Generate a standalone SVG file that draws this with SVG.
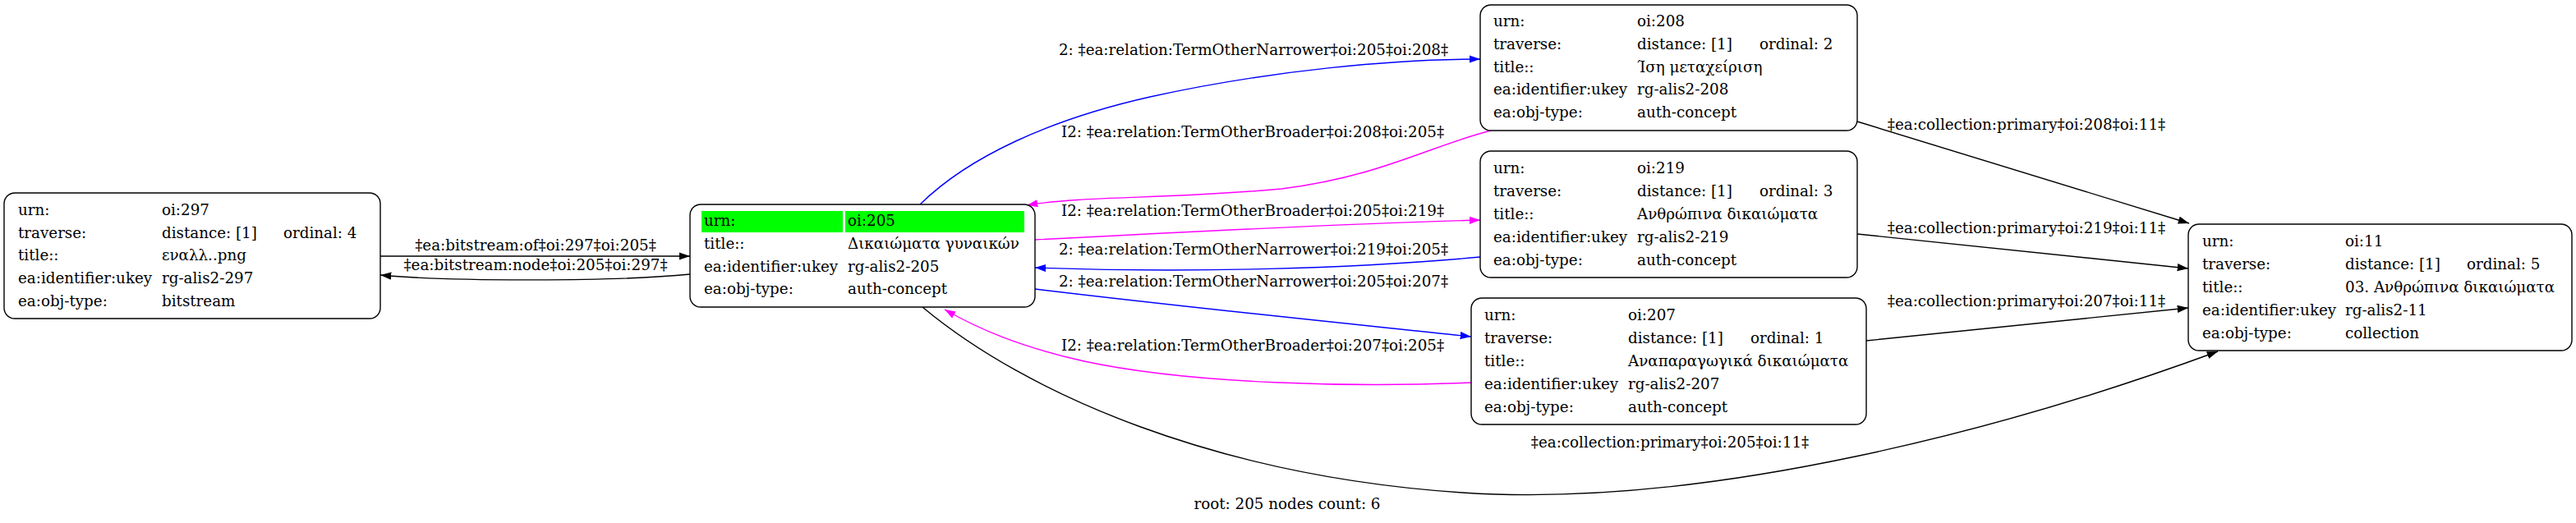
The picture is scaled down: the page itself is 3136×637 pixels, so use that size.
<svg xmlns="http://www.w3.org/2000/svg" width="3136" height="637" viewBox="0 0 3136 637">
<style>
text{font-family:"DejaVu Serif","Liberation Serif",serif;font-size:18.3px;fill:#000}
.lbl{text-anchor:middle}
.box{fill:#fff;stroke:#000;stroke-width:1.4}
.e{fill:none;stroke-width:1.4}
.k{stroke:#000}.b{stroke:#0000ff}.m{stroke:#ff00ff}
</style>
<defs>
<marker id="ak" markerUnits="userSpaceOnUse" markerWidth="14" markerHeight="10" refX="13.3" refY="4.67" orient="auto"><path d="M0,0 L13.3,4.67 L0,9.33 z" fill="#000"/></marker>
<marker id="ab" markerUnits="userSpaceOnUse" markerWidth="14" markerHeight="10" refX="13.3" refY="4.67" orient="auto"><path d="M0,0 L13.3,4.67 L0,9.33 z" fill="#0000ff"/></marker>
<marker id="am" markerUnits="userSpaceOnUse" markerWidth="14" markerHeight="10" refX="13.3" refY="4.67" orient="auto"><path d="M0,0 L13.3,4.67 L0,9.33 z" fill="#ff00ff"/></marker>
</defs>
<rect width="3136" height="637" fill="#fff"/>
<g id="connectors">
<path class="e k" d="M463,312 L840,312" marker-end="url(#ak)"/>
<text class="lbl" x="652" y="305">‡ea:bitstream:of‡oi:297‡oi:205‡</text>
<path class="e k" d="M840,334 C750,343 550,343 463,335" marker-end="url(#ak)"/>
<text class="lbl" x="652" y="329">‡ea:bitstream:node‡oi:205‡oi:297‡</text>
<path class="e b" d="M1120,249 C1180,190 1280,145 1400,118 C1550,85 1700,72 1802,72" marker-end="url(#ab)"/>
<text class="lbl" x="1526" y="67">2: ‡ea:relation:TermOtherNarrower‡oi:205‡oi:208‡</text>
<path class="e m" d="M1815,159 C1740,178 1680,215 1560,230 C1420,243 1320,238 1250,250" marker-end="url(#am)"/>
<text class="lbl" x="1525" y="167">I2: ‡ea:relation:TermOtherBroader‡oi:208‡oi:205‡</text>
<path class="e m" d="M1260,292 C1450,282 1650,272 1802,268" marker-end="url(#am)"/>
<text class="lbl" x="1525" y="263">I2: ‡ea:relation:TermOtherBroader‡oi:205‡oi:219‡</text>
<path class="e b" d="M1802,313 C1650,327 1450,333 1260,326" marker-end="url(#ab)"/>
<text class="lbl" x="1526" y="310">2: ‡ea:relation:TermOtherNarrower‡oi:219‡oi:205‡</text>
<path class="e b" d="M1260,352 C1450,375 1650,395 1791,410" marker-end="url(#ab)"/>
<text class="lbl" x="1526" y="349">2: ‡ea:relation:TermOtherNarrower‡oi:205‡oi:207‡</text>
<path class="e m" d="M1791,466 C1650,472 1450,468 1320,440 C1240,422 1190,400 1150,377" marker-end="url(#am)"/>
<text class="lbl" x="1525" y="427">I2: ‡ea:relation:TermOtherBroader‡oi:207‡oi:205‡</text>
<path class="e k" d="M2261,148 L2665,272" marker-end="url(#ak)"/>
<text class="lbl" x="2467" y="158">‡ea:collection:primary‡oi:208‡oi:11‡</text>
<path class="e k" d="M2261,285 L2664,327" marker-end="url(#ak)"/>
<text class="lbl" x="2467" y="284">‡ea:collection:primary‡oi:219‡oi:11‡</text>
<path class="e k" d="M2272,415 L2664,375" marker-end="url(#ak)"/>
<text class="lbl" x="2467" y="373">‡ea:collection:primary‡oi:207‡oi:11‡</text>
<path class="e k" d="M1123,374 C1250,480 1480,580 1780,600 C2080,620 2450,520 2700,428" marker-end="url(#ak)"/>
<text class="lbl" x="2033" y="545">‡ea:collection:primary‡oi:205‡oi:11‡</text>
</g>
<g id="node-297">
<rect class="box" x="5" y="235" width="458" height="153" rx="13"/>
<text x="22" y="262">urn:</text><text x="197" y="262">oi:297</text>
<text x="22" y="290">traverse:</text><text x="197" y="290">distance: [1]</text><text x="345" y="290">ordinal: 4</text>
<text x="22" y="317">title::</text><text x="197" y="317">εναλλ..png</text>
<text x="22" y="345">ea:identifier:ukey</text><text x="197" y="345">rg-alis2-297</text>
<text x="22" y="373">ea:obj-type:</text><text x="197" y="373">bitstream</text>
</g>
<g id="node-205">
<rect class="box" x="840" y="249" width="420" height="125" rx="13"/>
<rect x="854" y="257" width="172" height="26" fill="#00ff00"/>
<rect x="1029" y="257" width="218" height="26" fill="#00ff00"/>
<text x="857" y="275">urn:</text><text x="1032" y="275">oi:205</text>
<text x="857" y="303">title::</text><text x="1032" y="303">Δικαιώματα γυναικών</text>
<text x="857" y="331">ea:identifier:ukey</text><text x="1032" y="331">rg-alis2-205</text>
<text x="857" y="358">ea:obj-type:</text><text x="1032" y="358">auth-concept</text>
</g>
<g id="node-208">
<rect class="box" x="1802" y="6" width="459" height="153" rx="13"/>
<text x="1818" y="32">urn:</text><text x="1993" y="32">oi:208</text>
<text x="1818" y="60">traverse:</text><text x="1993" y="60">distance: [1]</text><text x="2142" y="60">ordinal: 2</text>
<text x="1818" y="88">title::</text><text x="1993" y="88">Ίση μεταχείριση</text>
<text x="1818" y="115">ea:identifier:ukey</text><text x="1993" y="115">rg-alis2-208</text>
<text x="1818" y="143">ea:obj-type:</text><text x="1993" y="143">auth-concept</text>
</g>
<g id="node-219">
<rect class="box" x="1802" y="184" width="459" height="154" rx="13"/>
<text x="1818" y="211">urn:</text><text x="1993" y="211">oi:219</text>
<text x="1818" y="239">traverse:</text><text x="1993" y="239">distance: [1]</text><text x="2142" y="239">ordinal: 3</text>
<text x="1818" y="267">title::</text><text x="1993" y="267">Ανθρώπινα δικαιώματα</text>
<text x="1818" y="295">ea:identifier:ukey</text><text x="1993" y="295">rg-alis2-219</text>
<text x="1818" y="323">ea:obj-type:</text><text x="1993" y="323">auth-concept</text>
</g>
<g id="node-207">
<rect class="box" x="1791" y="363" width="481" height="154" rx="13"/>
<text x="1807" y="390">urn:</text><text x="1982" y="390">oi:207</text>
<text x="1807" y="418">traverse:</text><text x="1982" y="418">distance: [1]</text><text x="2131" y="418">ordinal: 1</text>
<text x="1807" y="446">title::</text><text x="1982" y="446">Αναπαραγωγικά δικαιώματα</text>
<text x="1807" y="474">ea:identifier:ukey</text><text x="1982" y="474">rg-alis2-207</text>
<text x="1807" y="502">ea:obj-type:</text><text x="1982" y="502">auth-concept</text>
</g>
<g id="node-11">
<rect class="box" x="2664" y="273" width="467" height="154" rx="13"/>
<text x="2681" y="300">urn:</text><text x="2855" y="300">oi:11</text>
<text x="2681" y="328">traverse:</text><text x="2855" y="328">distance: [1]</text><text x="3003" y="328">ordinal: 5</text>
<text x="2681" y="356">title::</text><text x="2855" y="356">03. Ανθρώπινα δικαιώματα</text>
<text x="2681" y="384">ea:identifier:ukey</text><text x="2855" y="384">rg-alis2-11</text>
<text x="2681" y="412">ea:obj-type:</text><text x="2855" y="412">collection</text>
</g>
<text class="lbl" x="1567" y="620">root: 205 nodes count: 6</text>
</svg>
